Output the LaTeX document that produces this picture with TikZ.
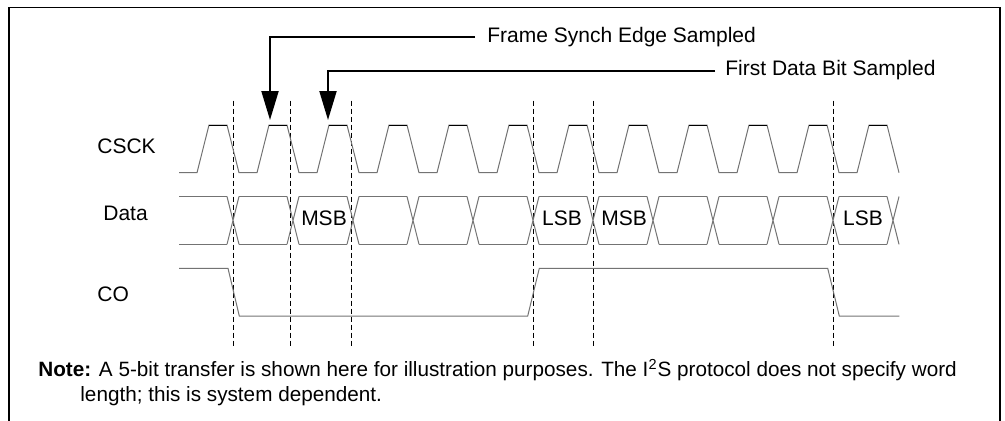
\documentclass[tikz,border=0pt]{standalone}
\usepackage{fontspec}
\setmainfont{Liberation Sans}
\usetikzlibrary{arrows.meta}
\begin{document}
\begin{tikzpicture}[x=0.5pt,y=-0.5pt,
  wave/.style={draw=black!55, line width=0.5pt},
  hiseg/.style={draw=black, line width=0.5pt},
  guide/.style={draw=black, line width=0.5pt, dash pattern=on 2.5pt off 1.5pt},
  callout/.style={draw=black, line width=1pt, -{Triangle[length=14.5pt,width=8.5pt]}},
  lbl/.style={font=\fontsize{10.5}{12}\selectfont, inner sep=0pt},
  notetext/.style={font=\fontsize{10.35}{12}\selectfont, inner sep=0pt, anchor=west},
  framebox/.style={draw=black, line width=0.9pt}]
\useasboundingbox (0,0) rectangle (1005,420);
% frame
\draw[framebox] (9,430) -- (9,7.5) -- (1000,7.5) -- (1000,430);
% dashed guides
\foreach \x in {233.3,290.7,351.7,533.3,593.3,833.3}
  \draw[guide] (\x,100.7) -- (\x,348);
% CSCK
\draw[wave] (179,172.7) foreach \k in {0,...,11} {
  -- ({197+60*\k},172.7) -- ({209+60*\k},125) -- ({227+60*\k},125) -- ({239+60*\k},172.7) };
\foreach \k in {0,...,11}
  \draw[hiseg] ({209+60*\k},125) -- ({227+60*\k},125);
% Data
\draw[wave] (179,196.5) -- (227,196.5) (179,244.3) -- (227,244.3);
\foreach \k in {0,...,11} {
  \draw[wave] ({227+60*\k},196.5) -- ({239+60*\k},244.3)
              ({227+60*\k},244.3) -- ({239+60*\k},196.5);
}
\foreach \k in {0,...,10} {
  \draw[wave] ({239+60*\k},196.5) -- ({287+60*\k},196.5)
              ({239+60*\k},244.3) -- ({287+60*\k},244.3);
}
% CO
\draw[wave] (179,268.3) -- (228,268.3) -- (239.3,316) -- (527.7,316) -- (539.3,268.3)
  -- (827.7,268.3) -- (839.3,316) -- (899.3,316);
% labels
\node[lbl,anchor=west] (csck) at (97,146.7) {CSCK};
\node[lbl,anchor=west] (data) at (103,213.5) {Data};
\node[lbl,anchor=west] (co) at (97,294.5) {CO};
\node[lbl] (msba) at (324,218.3) {MSB};
\node[lbl] (lsba) at (562,218.3) {LSB};
\node[lbl] (msbb) at (624,218.3) {MSB};
\node[lbl] (lsbb) at (863,218.3) {LSB};
% callouts
\node[lbl,anchor=west] (fs) at (487,36.7) {Frame Synch Edge Sampled};
\node[lbl,anchor=west] (fd) at (725,70.5) {First Data Bit Sampled};
\coordinate (fstip) at (270,120);
\coordinate (fdtip) at (328,120);
\draw[callout] ([xshift=-6pt]fs.west) -| (fstip);
\draw[callout] ([xshift=-5pt]fd.west) -| (fdtip);
% note
\node[notetext] (note1) at (38,370) {\textbf{Note:} A 5-bit transfer is shown here for illustration purposes. The I\textsuperscript{2}S protocol does not specify word};
\node[notetext] (note2) at (80,396) {length; this is system dependent.};
\end{tikzpicture}
\end{document}
